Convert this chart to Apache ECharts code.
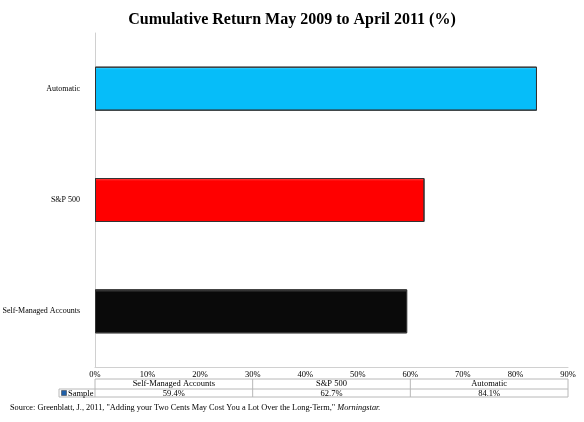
<!DOCTYPE html>
<html><head><meta charset="utf-8">
<script src="https://cdn.jsdelivr.net/npm/echarts@6/dist/echarts.min.js"></script>
<style>html,body{margin:0;padding:0;background:#fff}#c{width:584px;height:422px}</style>
</head><body><div id="c"></div>
<script>
const categories = ['Self-Managed Accounts', 'S&P 500', 'Automatic'];
const values = [59.4, 62.7, 84.1];
const seriesName = 'Sample';
const xTicks = [0, 10, 20, 30, 40, 50, 60, 70, 80, 90];
const barColors = ['#0a0a0a', '#ff0000', '#06bdf9'];
const barTop = ['#555555', '#ff5050', '#5ad8ff'];

const chart = echarts.init(document.getElementById('c'));
const F = '"Liberation Serif", "Times New Roman", serif';
const xMax = xTicks[xTicks.length - 1];

chart.setOption({
  animation: false,
  title: {
    text: 'Cumulative Return May 2009 to April 2011 (%)',
    left: 'center', top: 7,
    textStyle: { fontFamily: F, fontWeight: 'bold', fontSize: 16, color: '#000' }
  },
  grid: { left: 95, right: 16, top: 33, bottom: 55, containLabel: false, outerBoundsMode: 'none' },
  xAxis: {
    type: 'value', min: 0, max: xMax, interval: 10,
    axisLine: { show: true, lineStyle: { color: '#d0d0d0', width: 1 } },
    axisTick: { show: false },
    splitLine: { show: false },
    axisLabel: { fontFamily: F, fontSize: 8.5, color: '#000', margin: 3, formatter: v => v + '%' }
  },
  yAxis: {
    type: 'category', data: categories,
    axisLine: { show: true, lineStyle: { color: '#d0d0d0', width: 1 } },
    axisTick: { show: false },
    axisLabel: { fontFamily: F, fontSize: 8, color: '#000', margin: 15 }
  },
  series: [{
    type: 'bar', name: seriesName, barWidth: 44,
    data: values.map((v, i) => ({
      value: v,
      itemStyle: {
        color: new echarts.graphic.LinearGradient(0, 0, 0, 1, [
          { offset: 0, color: barTop[i] },
          { offset: 0.07, color: barColors[i] },
          { offset: 1, color: barColors[i] }
        ]),
        borderColor: '#333', borderWidth: 1
      }
    }))
  }]
});

// Data table under the axis
const g = [];
const n = categories.length;
const y0 = 379, y1 = 389, y2 = 397;
const border = '#b8b8b8';
const TF = '8.5px ' + F;
const xs = [];
for (let i = 0; i <= n; i++) xs.push(chart.convertToPixel({ xAxisIndex: 0 }, i * xMax / n));
const line = (x1, yA, x2, yB) => ({ type: 'line', shape: { x1, y1: yA, x2, y2: yB }, style: { stroke: border, lineWidth: 1 } });
g.push(line(xs[0], y0, xs[n], y0));
g.push(line(59, y1, xs[n], y1));
g.push(line(59, y2, xs[n], y2));
g.push(line(59, y1, 59, y2));
for (let i = 0; i <= n; i++) g.push(line(xs[i], y0, xs[i], y2));
for (let i = 0; i < n; i++) {
  const cx = (xs[i] + xs[i + 1]) / 2;
  g.push({ type: 'text', style: { text: categories[i], x: cx, y: (y0 + y1) / 2, align: 'center', verticalAlign: 'middle', font: TF, fill: '#000' } });
  g.push({ type: 'text', style: { text: values[i].toFixed(1) + '%', x: cx, y: (y1 + y2) / 2 + 0.5, align: 'center', verticalAlign: 'middle', font: TF, fill: '#000' } });
}
g.push({ type: 'rect', shape: { x: 61.5, y: 390.5, width: 5, height: 5 }, style: { fill: '#1f5fa8', stroke: '#333', lineWidth: 0.5 } });
g.push({ type: 'text', style: { text: seriesName, x: 68, y: (y1 + y2) / 2 + 0.5, verticalAlign: 'middle', font: TF, fill: '#000' } });
g.push({
  type: 'text', left: 10, top: 404,
  style: {
    text: '{n|Source: Greenblatt, J., 2011, "Adding your Two Cents May Cost You a Lot Over the Long-Term," }{i|Morningstar.}',
    rich: {
      n: { fontFamily: F, fontSize: 8.3, fill: '#000', color: '#000' },
      i: { fontFamily: F, fontSize: 8.3, fontStyle: 'italic', fill: '#000', color: '#000' }
    }
  }
});
chart.setOption({ graphic: g });
</script>
</body></html>
